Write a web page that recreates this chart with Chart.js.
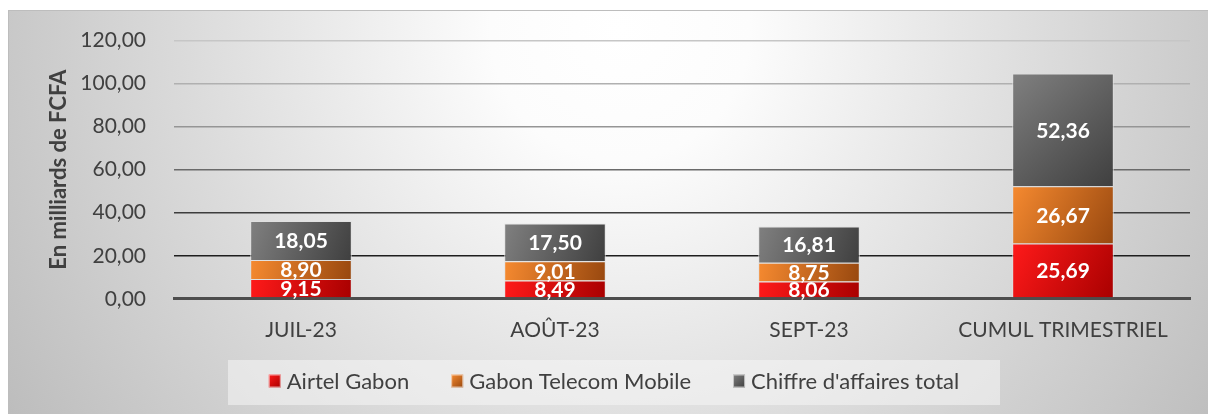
<!DOCTYPE html>
<html>
<head>
<meta charset="utf-8">
<script src="https://cdn.jsdelivr.net/npm/chart.js@4.4.1/dist/chart.umd.min.js"></script>
<style>
  html, body { margin: 0; padding: 0; background: #fff; }
  #wrap { width: 1208px; height: 414px; }
</style>
</head>
<body>
<div id="wrap"><canvas id="chiffreChart" width="1208" height="414"></canvas></div>
<script>
const categories = ["JUIL-23", "AOÛT-23", "SEPT-23", "CUMUL TRIMESTRIEL"];
const seriesNames = ["Airtel Gabon", "Gabon Telecom Mobile", "Chiffre d'affaires total"];
const airtel = [9.15, 8.49, 8.06, 25.69];
const gabonTelecom = [8.90, 9.01, 8.75, 26.67];
const totalCA = [18.05, 17.50, 16.81, 52.36];
const yTicks = [0, 20, 40, 60, 80, 100, 120];

// couleurs : clair en haut a gauche, fonce en bas a droite
const gradColors = [
  ["#ff1a1a", "#a80000"],
  ["#f68a30", "#98480f"],
  ["#808080", "#3f3f3f"]
];
const gridColors = { 0: "#4d4d4d", 20: "#1e1e1e", 40: "#3d3d3d", 60: "#6a6a6a", 80: "#959595", 100: "#b0b0b0", 120: "#c6c6c6" };

const fmt = v => v.toFixed(2).replace(".", ",");
const BAR_PCT = 0.4;

function barGradient(context) {
  const ds = context.datasetIndex;
  const cols = gradColors[ds];
  if (context.type !== "data") return cols[0];
  const chart = context.chart;
  const xs = chart.scales.x, ys = chart.scales.y;
  if (!xs || !ys || !xs.width) return cols[0];
  const i = context.dataIndex;
  let start = 0;
  for (let k = 0; k < ds; k++) start += chart.data.datasets[k].data[i];
  const end = start + chart.data.datasets[ds].data[i];
  const x = xs.getPixelForValue(i);
  const half = xs.width / categories.length * BAR_PCT / 2;
  const y0 = ys.getPixelForValue(end), y1 = ys.getPixelForValue(start);
  if (![x, half, y0, y1].every(Number.isFinite)) return cols[0];
  const g = chart.ctx.createLinearGradient(x - half, y0, x + half, y1);
  g.addColorStop(0, cols[0]);
  g.addColorStop(1, cols[1]);
  return g;
}

const backgroundPlugin = {
  id: "fond",
  beforeDraw(chart) {
    const c = chart.ctx;
    c.save();
    c.fillStyle = "#fff";
    c.fillRect(0, 0, chart.width, chart.height);
    const g = c.createRadialGradient(620, 30, 0, 620, 30, 720);
    g.addColorStop(0, "#ffffff");
    g.addColorStop(0.18, "#fcfcfc");
    g.addColorStop(0.6, "#dbdbdb");
    g.addColorStop(1, "#bdbdbd");
    c.fillStyle = g;
    c.fillRect(8, 10, chart.width - 8, chart.height - 10);
    c.strokeStyle = "#bdbdbd";
    c.lineWidth = 1;
    c.strokeRect(8.5, 10.5, chart.width, chart.height);
    c.restore();
  }
};

const valueLabels = {
  id: "valeurs",
  afterDatasetsDraw(chart) {
    const c = chart.ctx;
    c.save();
    c.font = "bold 21px Lato";
    c.fillStyle = "#ffffff";
    c.textAlign = "center";
    c.textBaseline = "middle";
    chart.data.datasets.forEach((ds, di) => {
      chart.getDatasetMeta(di).data.forEach((el, i) => {
        const p = el.getProps(["x", "y", "base"], true);
        c.fillText(fmt(ds.data[i]), p.x, (p.y + p.base) / 2 + 1);
      });
    });
    c.restore();
  }
};

const legendBox = {
  id: "legende",
  afterDraw(chart) {
    const c = chart.ctx;
    c.save();
    c.font = "22px Lato";
    const boxW = 12, boxH = 13, gapText = 6, gapItem = 42;
    const widths = seriesNames.map(n => c.measureText(n).width);
    const total = widths.reduce((a, w) => a + boxW + gapText + w, 0) + gapItem * (seriesNames.length - 1);
    const cx = 614, cy = 381;
    let x = cx - total / 2;
    c.fillStyle = "rgba(245,245,245,0.55)";
    c.fillRect(228, 360, 772, 45);
    c.textBaseline = "middle";
    seriesNames.forEach((n, i) => {
      const g = c.createLinearGradient(x, cy - boxH / 2, x + boxW, cy + boxH / 2);
      g.addColorStop(0, gradColors[i][0]);
      g.addColorStop(1, gradColors[i][1]);
      c.fillStyle = g;
      c.fillRect(x, cy - boxH / 2, boxW, boxH);
      c.strokeStyle = "rgba(255,255,255,0.6)";
      c.lineWidth = 1;
      c.strokeRect(x + 0.5, cy - boxH / 2 + 0.5, boxW - 1, boxH - 1);
      c.fillStyle = "#404040";
      c.fillText(n, x + boxW + gapText, cy + 1);
      x += boxW + gapText + widths[i] + gapItem;
    });
    c.restore();
  }
};

const datasets = [airtel, gabonTelecom, totalCA].map((vals, i) => ({
  label: seriesNames[i],
  data: vals,
  backgroundColor: barGradient,
  borderColor: "rgba(225,225,225,0.85)",
  borderWidth: 1,
  barPercentage: BAR_PCT,
  categoryPercentage: 1
}));

new Chart(document.getElementById("chiffreChart").getContext("2d"), {
  type: "bar",
  data: { labels: categories, datasets: datasets },
  options: {
    responsive: false,
    animation: false,
    layout: { padding: { left: 22, right: 18, top: 28, bottom: 52 } },
    plugins: {
      legend: { display: false },
      tooltip: { enabled: false }
    },
    scales: {
      x: {
        stacked: true,
        grid: { display: false, drawTicks: false },
        border: { display: true, color: "#4d4d4d", width: 3 },
        ticks: { color: "#404040", font: { family: "Lato", size: 21 }, padding: 19 }
      },
      y: {
        stacked: true,
        min: 0,
        max: 120,
        afterBuildTicks: axis => { axis.ticks = yTicks.map(v => ({ value: v })); },
        afterFit: axis => { axis.width = 152; },
        grid: {
          drawTicks: false,
          color: c => gridColors[c.tick.value] || "#999",
          lineWidth: c => c.tick.value === 0 ? 3 : 1.5
        },
        border: { display: false },
        ticks: {
          color: "#404040",
          font: { family: "Lato", size: 21 },
          padding: 28,
          callback: v => fmt(v)
        },
        title: {
          display: true,
          text: "En milliards de FCFA",
          color: "#404040",
          font: { family: "Lato", size: 22, weight: "bold" },
          padding: { top: 24, bottom: 4 }
        }
      }
    }
  },
  plugins: [backgroundPlugin, valueLabels, legendBox]
});
</script>
</body>
</html>
